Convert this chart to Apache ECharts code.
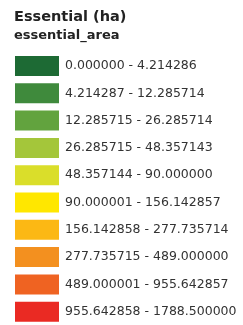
<!DOCTYPE html>
<html>
	<head>
		<meta charset="utf-8" />
		<title></title>
		<script src="https://cdn.jsdelivr.net/npm/echarts@6/dist/echarts.min.js" type="text/javascript" charset="utf-8"></script>
		<style type="text/css">
			html, body { margin: 0; padding: 0; background: #fff; }
		</style>
	</head>
	<body>
		<div id="legend" style="width: 243px;height: 325px;"></div>
		<script type="text/javascript">
			var titleText = "Essential (ha)";
			var fieldName = "essential_area";
			var lows = [0.000000, 4.214287, 12.285715, 26.285715, 48.357144, 90.000001, 156.142858, 277.735715, 489.000001, 955.642858];
			var highs = [4.214286, 12.285714, 26.285714, 48.357143, 90.000000, 156.142857, 277.735714, 489.000000, 955.642857, 1788.500000];
			var colors = ["#1d6a34", "#3f8a3c", "#62a33e", "#a4c63a", "#dade2a", "#ffe700", "#fcb814", "#f3901f", "#ef6322", "#ea2a23"];

			var pieces = [];
			for ( var i = 0 ; i < lows.length ; i ++ ){
				pieces.push({
					min: lows[i],
					max: highs[i],
					label: lows[i].toFixed(6) + " - " + highs[i].toFixed(6),
					color: colors[i]
				});
			}

			var chart = echarts.init(document.getElementById("legend"));
			var font = "'DejaVu Sans', sans-serif";
			chart.setOption({
				animation: false,
				title: [
					{
						text: titleText,
						left: 14,
						top: 10,
						padding: 0,
						textStyle: {fontFamily: font, fontSize: 14.5, fontWeight: 'bold', color: '#222'}
					},
					{
						text: fieldName,
						left: 14,
						top: 29,
						padding: 0,
						textStyle: {fontFamily: font, fontSize: 13, fontWeight: 'bold', color: '#222'}
					}
				],
				visualMap: {
					type: 'piecewise',
					orient: 'vertical',
					inverse: true,
					left: 15,
					top: 56,
					padding: 0,
					itemWidth: 44,
					itemHeight: 20,
					itemGap: 7.3,
					textGap: 6,
					itemSymbol: 'rect',
					selectedMode: false,
					hoverLink: false,
					pieces: pieces,
					textStyle: {fontFamily: font, fontSize: 12.5, color: '#333'}
				},
				series: []
			});
		</script>
	</body>
</html>
